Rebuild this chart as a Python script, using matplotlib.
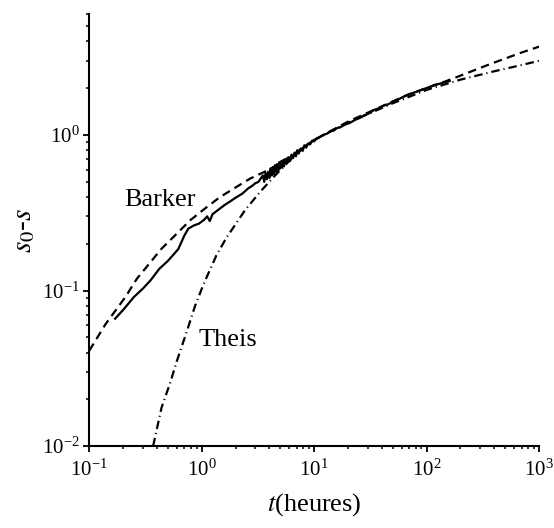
import matplotlib
matplotlib.use("Agg")
import matplotlib.pyplot as plt

plt.rcParams['font.family'] = 'serif'
plt.rcParams['font.serif'] = ['Liberation Serif', 'DejaVu Serif']
plt.rcParams['mathtext.fontset'] = 'stix'

# observed drawdown (solid)
t_obs = [0.17, 0.2, 0.25, 0.3, 0.35, 0.42, 0.5, 0.58, 0.62, 0.7, 0.76, 0.85, 0.95,
         1.05, 1.12, 1.18, 1.25, 1.4, 1.6, 1.8, 2.0, 2.3, 2.6, 2.8, 3.0, 3.2,
         3.5, 3.6, 3.7, 3.8, 3.9, 4.0, 4.1, 4.2, 4.3, 4.4, 4.5, 4.6, 4.7, 4.8, 4.9,
         5.0, 5.1, 5.2, 5.3, 5.4, 5.5, 5.7, 5.9, 6.1, 6.3, 6.5, 6.7, 6.9, 7.1, 7.3,
         7.6, 7.9, 8.2, 8.5, 8.8, 9.2, 9.6, 10, 10.5, 11, 12, 13, 14, 15, 16, 17,
         19, 21, 23, 25, 28, 31, 34, 38, 42, 46, 50, 55, 60, 67, 75, 85, 95, 105,
         118, 132, 145, 160]
s_obs = [0.066, 0.075, 0.091, 0.103, 0.116, 0.138, 0.155, 0.175, 0.185, 0.225, 0.25,
         0.262, 0.27, 0.285, 0.30, 0.28, 0.31, 0.33, 0.355, 0.375, 0.395, 0.42, 0.455,
         0.47, 0.49, 0.5,
         0.55, 0.50, 0.57, 0.52, 0.58, 0.53, 0.61, 0.55, 0.62, 0.56, 0.64, 0.58, 0.65,
         0.59, 0.67, 0.61, 0.68, 0.62, 0.69, 0.63, 0.70, 0.66, 0.72, 0.68, 0.75, 0.71,
         0.77, 0.73, 0.80, 0.76, 0.82, 0.79, 0.86, 0.83, 0.88, 0.87, 0.92, 0.91, 0.95,
         0.96, 1.0, 1.02, 1.06, 1.07, 1.11, 1.12, 1.17, 1.2, 1.25, 1.28, 1.34, 1.38,
         1.45, 1.49, 1.55, 1.58, 1.64, 1.68, 1.74, 1.8, 1.86, 1.92, 1.98, 2.03, 2.1,
         2.14, 2.19, 2.22]

# Barker model (dashed)
t_barker = [0.1, 0.14, 0.21, 0.265, 0.35, 0.44, 0.6, 0.79, 1.07, 1.46, 2.0, 2.7,
            4.0, 6.0, 10, 13, 20, 34, 67, 132, 192, 354, 682, 1000]
s_barker = [0.041, 0.061, 0.091, 0.119, 0.152, 0.186, 0.232, 0.283, 0.337, 0.40,
            0.46, 0.525, 0.60, 0.72, 0.93, 1.03, 1.22, 1.45, 1.81, 2.15, 2.38, 2.83,
            3.37, 3.7]

# Theis model (dash-dot)
t_theis = [0.37, 0.44, 0.52, 0.6, 0.74, 0.875, 1.04, 1.36, 1.67, 2.44, 3.3, 4.5,
           6.0, 8.0, 10, 20, 50, 100, 200, 400, 700, 1000]
s_theis = [0.01, 0.0177, 0.025, 0.035, 0.055, 0.08, 0.11, 0.17, 0.22, 0.33, 0.43,
           0.55, 0.68, 0.83, 0.93, 1.2, 1.6, 1.95, 2.27, 2.57, 2.82, 3.0]

fig = plt.figure(figsize=(5.54, 5.28), dpi=100)
ax = fig.add_axes([0.161, 0.155, 0.812, 0.8185])

ax.plot(t_barker, s_barker, color='black', lw=1.6, linestyle=(0, (3.8, 2.4)))
ax.plot(t_theis, s_theis, color='black', lw=1.6, linestyle=(0, (3.8, 1.8, 0.5, 1.8)))
ax.plot(t_obs, s_obs, color='black', lw=1.6)

ax.set_xscale('log')
ax.set_yscale('log')
ax.set_xlim(0.1, 1000)
ax.set_ylim(0.01, 6)

ax.spines['top'].set_visible(False)
ax.spines['right'].set_visible(False)
for sp in ['left', 'bottom']:
    ax.spines[sp].set_linewidth(1.5)
ax.tick_params(which='major', direction='out', length=4, width=1.3, labelsize=15)
ax.tick_params(axis='x', which='major', pad=6)
ax.tick_params(axis='y', which='major', pad=3)
ax.tick_params(which='minor', direction='out', length=2.2, width=1.1)

ax.text(0.205, 0.35, 'Barker', fontsize=19)
ax.text(0.93, 0.044, 'Theis', fontsize=19)

ax.set_xlabel('$t$(heures)', fontsize=19, labelpad=7)
ax.set_ylabel('$s_0$-$s$', fontsize=21, labelpad=3)

fig.savefig('out.png', dpi=100)
